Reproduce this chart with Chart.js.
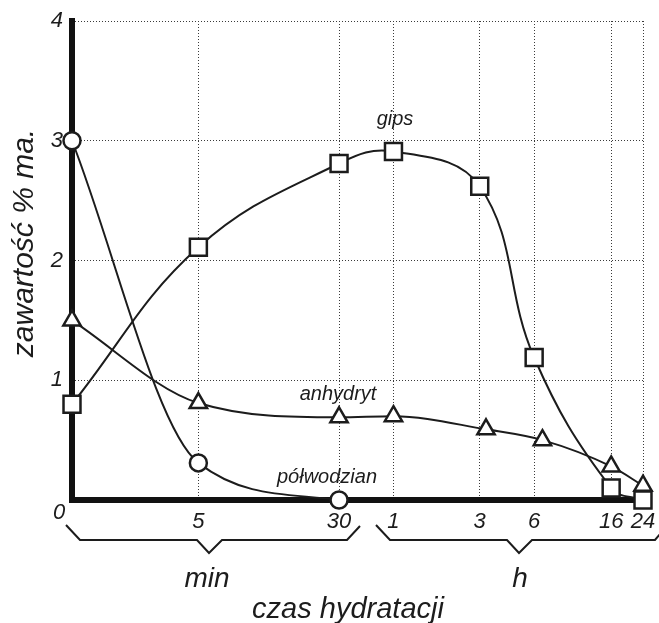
<!DOCTYPE html>
<html>
<head>
<meta charset="utf-8">
<script src="https://cdn.jsdelivr.net/npm/chart.js@4.4.0/dist/chart.umd.min.js"></script>
<style>
  body { margin: 0; background: #fff; }
  #wrap { width: 659px; height: 623px; }
</style>
</head>
<body>
<div id="wrap"><canvas id="chart"></canvas></div>
<script>
// czas hydratacji w minutach (os logarytmiczna, "0" lezy na 1 min)
const tickValues = [1, 5, 30, 60, 180, 360, 960, 1440];
const tickLabels = ['0', '5', '30', '1', '3', '6', '16', '24'];

const gipsTime = [1, 5, 30, 60, 180, 360, 960, 1440];
const gips = [0.8, 2.11, 2.81, 2.91, 2.62, 1.19, 0.1, 0.0];

const anhydrytTime = [1, 5, 30, 60, 195, 400, 960, 1440];
const anhydryt = [1.5, 0.81, 0.69, 0.7, 0.59, 0.5, 0.28, 0.12];

const polwodzianTime = [1, 5, 30];
const polwodzian = [3.0, 0.31, 0.0];

const ink = '#1c1c1c';
const fontFamily = '"Liberation Sans", Arial, sans-serif';

const toPoints = (xs, ys) => xs.map((x, i) => ({ x: x, y: ys[i] }));

const seriesStyle = {
  borderColor: ink,
  borderWidth: 2,
  pointBackgroundColor: '#fff',
  pointBorderColor: ink,
  pointBorderWidth: 2.5,
  pointHoverRadius: 0,
  clip: false,
};

// extra texts and braces under the x axis
const extrasPlugin = {
  id: 'extras',
  afterDraw(chart) {
    const ctx = chart.ctx;
    ctx.save();
    ctx.fillStyle = ink;
    ctx.strokeStyle = ink;

    ctx.font = 'italic 22px ' + fontFamily;
    ctx.textAlign = 'center';
    ctx.textBaseline = 'alphabetic';
    ctx.fillText('0', 59, 519);

    ctx.font = 'italic 20px ' + fontFamily;
    ctx.fillText('gips', 395, 125);
    ctx.fillText('anhydryt', 338, 400);
    ctx.fillText('półwodzian', 327, 483);

    ctx.font = 'italic 28px ' + fontFamily;
    ctx.fillText('min', 207, 587);
    ctx.fillText('h', 520, 587);
    ctx.font = 'italic 29px ' + fontFamily;
    ctx.fillText('czas hydratacji', 348, 618);

    ctx.save();
    ctx.font = 'italic 30px ' + fontFamily;
    ctx.translate(33, 243);
    ctx.rotate(-Math.PI / 2);
    ctx.fillText('zawartość % ma.', 0, 0);
    ctx.restore();

    // klamry
    ctx.lineWidth = 2;
    ctx.beginPath();
    ctx.moveTo(66, 525);
    ctx.lineTo(80, 540);
    ctx.lineTo(197, 540);
    ctx.lineTo(209, 553);
    ctx.lineTo(222, 540);
    ctx.lineTo(347, 540);
    ctx.lineTo(360, 526);
    ctx.stroke();

    ctx.beginPath();
    ctx.moveTo(376, 525);
    ctx.lineTo(390, 540);
    ctx.lineTo(507, 540);
    ctx.lineTo(519, 553);
    ctx.lineTo(532, 540);
    ctx.lineTo(655, 540);
    ctx.lineTo(660, 534);
    ctx.stroke();
    ctx.restore();
  }
};

new Chart(document.getElementById('chart'), {
  type: 'line',
  data: {
    datasets: [
      Object.assign({
        label: 'gips',
        data: toPoints(gipsTime, gips),
        pointStyle: 'rect',
        pointRadius: 12,
        tension: 0.4,
      }, seriesStyle),
      Object.assign({
        label: 'anhydryt',
        data: toPoints(anhydrytTime, anhydryt),
        pointStyle: 'triangle',
        pointRadius: 10,
        cubicInterpolationMode: 'monotone',
      }, seriesStyle),
      Object.assign({
        label: 'półwodzian',
        data: toPoints(polwodzianTime, polwodzian),
        pointStyle: 'circle',
        pointRadius: 8.5,
        cubicInterpolationMode: 'monotone',
      }, seriesStyle),
    ]
  },
  options: {
    responsive: true,
    maintainAspectRatio: false,
    animation: false,
    layout: { padding: { top: 21, right: 16, left: 0, bottom: 0 } },
    plugins: {
      legend: { display: false },
      tooltip: { enabled: false },
    },
    scales: {
      x: {
        type: 'logarithmic',
        min: 1,
        max: 1440,
        afterBuildTicks: (axis) => {
          axis.ticks = tickValues.map(v => ({ value: v }));
        },
        afterFit: (scale) => {
          scale.height = 123;
          scale.paddingLeft = 0;
          scale.paddingRight = 0;
        },
        ticks: {
          autoSkip: false,
          maxRotation: 0,
          padding: 9,
          color: ink,
          font: { family: fontFamily, size: 22, style: 'italic' },
          callback: (value) => {
            const i = tickValues.indexOf(value);
            return i > 0 ? tickLabels[i] : '';
          }
        },
        grid: { color: '#3a3a3a', lineWidth: 1, drawTicks: false },
        border: { color: '#111', width: 6, dash: [1, 2] },
      },
      y: {
        min: 0,
        max: 4,
        afterFit: (scale) => {
          scale.width = 72;
          scale.paddingTop = 0;
          scale.paddingBottom = 0;
        },
        ticks: {
          stepSize: 1,
          padding: 9,
          color: ink,
          font: { family: fontFamily, size: 22, style: 'italic' },
          callback: (value) => value === 0 ? '' : value,
        },
        grid: { color: '#3a3a3a', lineWidth: 1, drawTicks: false },
        border: { color: '#111', width: 6, dash: [1, 2] },
      }
    }
  },
  plugins: [extrasPlugin]
});
</script>
</body>
</html>
